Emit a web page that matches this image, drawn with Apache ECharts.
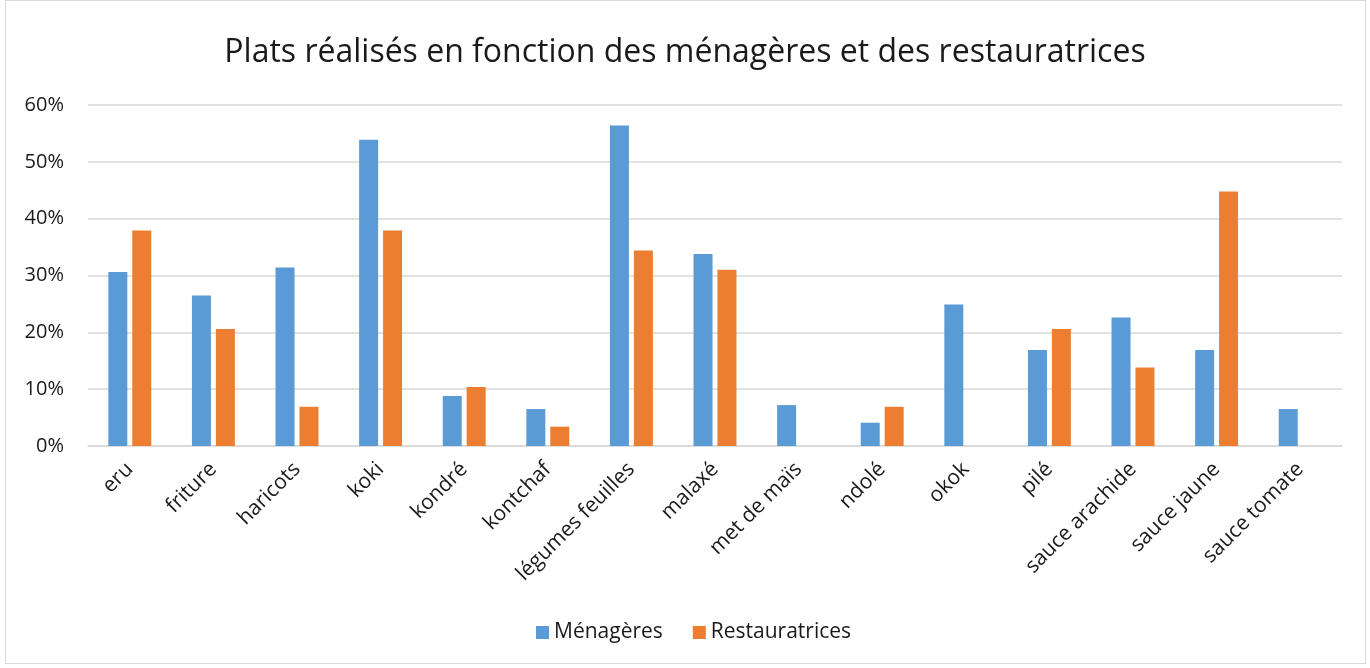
<!DOCTYPE html>
<html>
<head>
<meta charset="utf-8">
<script src="https://cdn.jsdelivr.net/npm/echarts@6/dist/echarts.min.js"></script>
<style>
  html, body { margin: 0; padding: 0; background: #fff; }
  #frame { position: absolute; left: 5px; top: 0; width: 1361px; height: 664px; border: 1px solid #d9d9d9; box-sizing: border-box; }
  #chart { width: 1370px; height: 668px; }
</style>
</head>
<body>
<div id="frame"></div>
<div id="chart"></div>
<script>
const categories = ['eru', 'friture', 'haricots', 'koki', 'kondré', 'kontchaf', 'légumes feuilles', 'malaxé', 'met de maïs', 'ndolé', 'okok', 'pilé', 'sauce arachide', 'sauce jaune', 'sauce tomate'];
const menageres = [30.6, 26.5, 31.4, 53.9, 8.8, 6.5, 56.4, 33.8, 7.2, 4.1, 24.9, 16.9, 22.6, 16.9, 6.5];
const restauratrices = [37.9, 20.6, 6.9, 37.9, 10.4, 3.4, 34.4, 31.0, 0, 6.9, 0, 20.6, 13.8, 44.8, 0];
const yTicks = { min: 0, max: 60, interval: 10 };

const FONT = '"Open Sans", "Noto Sans", sans-serif';
const TEXT = '#1a1a1a';
const chart = echarts.init(document.getElementById('chart'), null, { renderer: 'canvas' });
chart.setOption({
  animation: false,
  textStyle: { fontFamily: FONT },
  title: {
    text: 'Plats réalisés en fonction des ménagères et des restauratrices',
    left: 'center', top: 32,
    textStyle: { fontFamily: FONT, fontSize: 32, fontWeight: 'normal', color: TEXT }
  },
  legend: {
    bottom: 20, left: 531,
    itemWidth: 13, itemHeight: 13, itemGap: 30, itemStyle: { borderWidth: 0 },
    icon: 'rect',
    textStyle: { fontFamily: FONT, fontSize: 21, color: TEXT },
    data: ['Ménagères', 'Restauratrices']
  },
  grid: { left: 88, right: 28, top: 105, bottom: 222 },
  xAxis: {
    type: 'category',
    data: categories,
    axisLine: { lineStyle: { color: '#d9d9d9', width: 1.5 } },
    axisTick: { show: false },
    axisLabel: { rotate: 45, margin: 20, fontSize: 21, color: TEXT, fontFamily: FONT, interval: 0 }
  },
  yAxis: {
    type: 'value',
    min: yTicks.min, max: yTicks.max, interval: yTicks.interval,
    axisLine: { show: false },
    axisTick: { show: false },
    splitLine: { lineStyle: { color: '#d9d9d9', width: 1.5 } },
    axisLabel: { formatter: '{value}%', fontSize: 20, color: TEXT, fontFamily: FONT, margin: 24 }
  },
  series: [
    { name: 'Ménagères', type: 'bar', data: menageres, barWidth: 19, barGap: '26%',
      itemStyle: { color: '#5b9bd5' } },
    { name: 'Restauratrices', type: 'bar', data: restauratrices, barWidth: 19,
      itemStyle: { color: '#ed7d31' } }
  ]
});
</script>
</body>
</html>
